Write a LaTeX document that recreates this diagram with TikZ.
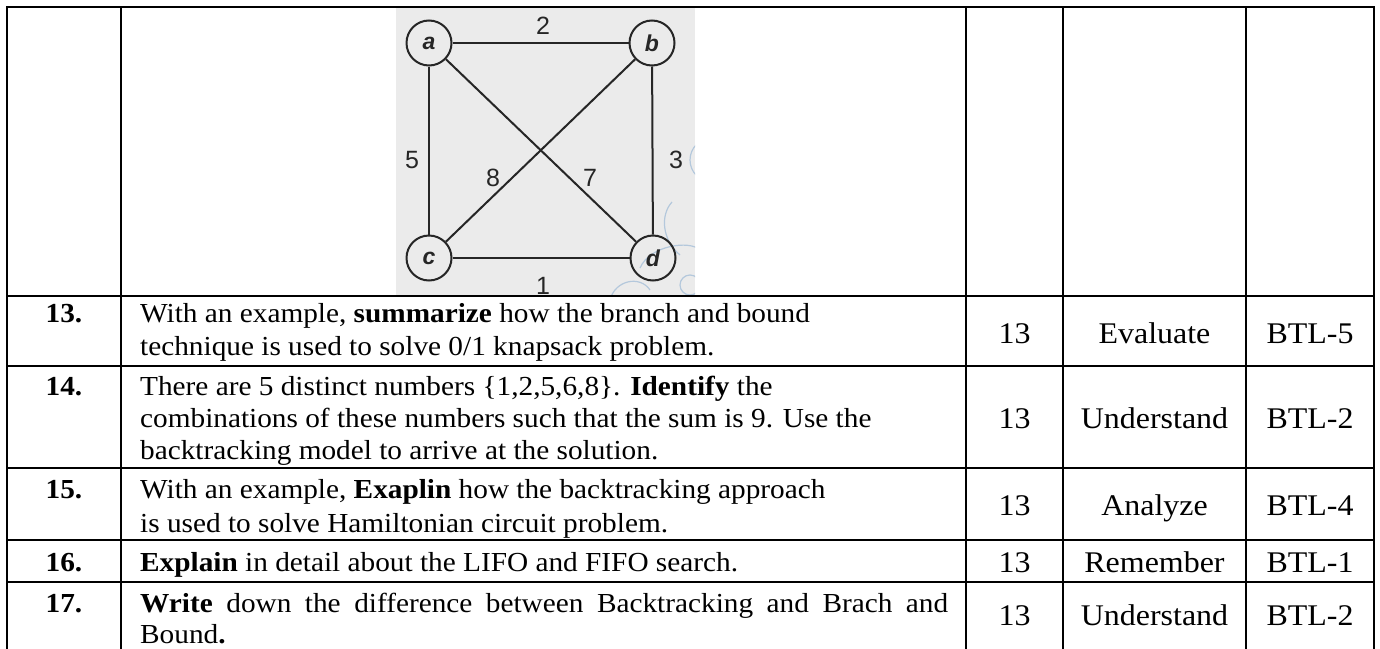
\documentclass[tikz,border=0pt]{standalone}
\usepackage{fontspec}
\setmainfont{Liberation Serif}[FakeStretch=1.065]
\setsansfont{Liberation Sans}
\definecolor{edgecol}{HTML}{262626}
\definecolor{graphbg}{HTML}{EBEBEB}
\definecolor{wmblue}{HTML}{B4C8DC}
\begin{document}
\begin{tikzpicture}[x=1pt,y=-1pt,
  gridline/.style={line width=2.3pt, line cap=rect},
  qtext/.style={anchor=base west, inner sep=0pt, font=\fontsize{27.5}{33}\selectfont},
  qnum/.style={anchor=base, inner sep=0pt, font=\fontsize{27.5}{33}\selectfont\bfseries},
  cell/.style={anchor=base, inner sep=0pt, font=\fontsize{30}{33}\selectfont},
  vert/.style={circle, draw=edgecol, line width=2pt, minimum size=45pt, inner sep=0pt,
    font=\sffamily\bfseries\itshape\fontsize{23}{23}\selectfont, text=edgecol},
  gedge/.style={draw=edgecol, line width=2pt},
  wlab/.style={font=\sffamily\fontsize{25}{25}\selectfont, text=edgecol, inner sep=0pt},
  wm/.style={draw=wmblue, line width=1.2pt}]
\useasboundingbox (0,0) rectangle (1380,648);
\fill[white] (0,0) rectangle (1380,648);

% graph picture
\begin{scope}
\clip (396,8) rectangle (695,295);
\fill[graphbg] (396,8) rectangle (695,295);
\draw[wm] (712,160) circle (22);
\draw[wm] (672,202) .. controls (660,215) and (662,240) .. (680,255);
\draw[wm] (640,268) .. controls (650,245) and (690,240) .. (700,250);
\draw[wm] (610,300) .. controls (615,280) and (640,275) .. (650,290);
\draw[wm] (690,285) circle (10);
\node[vert] (a) at (429,43) {a};
\node[vert] (b) at (652,43) {b};
\node[vert] (c) at (429,258) {c};
\node[vert] (d) at (653,258) {d};
\draw[gedge] (a) -- (b);
\draw[gedge] (a) -- (c);
\draw[gedge] (b) -- (d);
\draw[gedge] (c) -- (d);
\draw[gedge] (a) -- (d);
\draw[gedge] (b) -- (c);
\node[wlab] (l2) at (543,26) {2};
\node[wlab] (l5) at (412,160) {5};
\node[wlab] (l8) at (493,178) {8};
\node[wlab] (l7) at (590,178) {7};
\node[wlab] (l3) at (676,160) {3};
\node[wlab] (l1) at (543,286) {1};
\end{scope}

% table grid
\foreach \yy in {7,296,366,468,540,582}
  \draw[gridline] (7,\yy) -- (1374,\yy);
\foreach \xx in {7,121,966,1063,1246,1374}
  \draw[gridline] (\xx,7) -- (\xx,660);

% row 13
\node[qnum] (n13) at (64,322) {13.};
\node[qtext] (q13a) at (140,322) {With an example, \textbf{summarize} how the branch and bound};
\node[qtext] (q13b) at (140,355) {technique is used to solve 0/1 knapsack problem.};
\node[cell] (m13) at (1014.5,343) {13};
\node[cell] (v13) at (1154.5,343) {Evaluate};
\node[cell] (b13) at (1310,343) {BTL-5};

% row 14
\node[qnum] (n14) at (64,395) {14.};
\node[qtext] (q14a) at (140,395) {There are 5 distinct numbers \{1,2,5,6,8\}. \textbf{Identify} the};
\node[qtext] (q14b) at (140,427) {combinations of these numbers such that the sum is 9. Use the};
\node[qtext] (q14c) at (140,459) {backtracking model to arrive at the solution.};
\node[cell] (m14) at (1014.5,428) {13};
\node[cell] (v14) at (1154.5,428) {Understand};
\node[cell] (b14) at (1310,428) {BTL-2};

% row 15
\node[qnum] (n15) at (64,498) {15.};
\node[qtext] (q15a) at (140,498) {With an example, \textbf{Exaplin} how the backtracking approach};
\node[qtext] (q15b) at (140,532) {is used to solve Hamiltonian circuit problem.};
\node[cell] (m15) at (1014.5,515) {13};
\node[cell] (v15) at (1154.5,515) {Analyze};
\node[cell] (b15) at (1310,515) {BTL-4};

% row 16
\node[qnum] (n16) at (64,571) {16.};
\node[qtext] (q16a) at (140,571) {\textbf{Explain} in detail about the LIFO and FIFO search.};
\node[cell] (m16) at (1014.5,572) {13};
\node[cell] (v16) at (1154.5,572) {Remember};
\node[cell] (b16) at (1310,572) {BTL-1};

% row 17
\node[qnum] (n17) at (64,612) {17.};
\node[qtext] (q17a) at (140,612) {\makebox[808pt][s]{\textbf{Write} down the difference between Backtracking and Brach and}};
\node[qtext] (q17b) at (140,643) {Bound\textbf{.}};
\node[cell] (m17) at (1014.5,625) {13};
\node[cell] (v17) at (1154.5,625) {Understand};
\node[cell] (b17) at (1310,625) {BTL-2};
\end{tikzpicture}
\end{document}
